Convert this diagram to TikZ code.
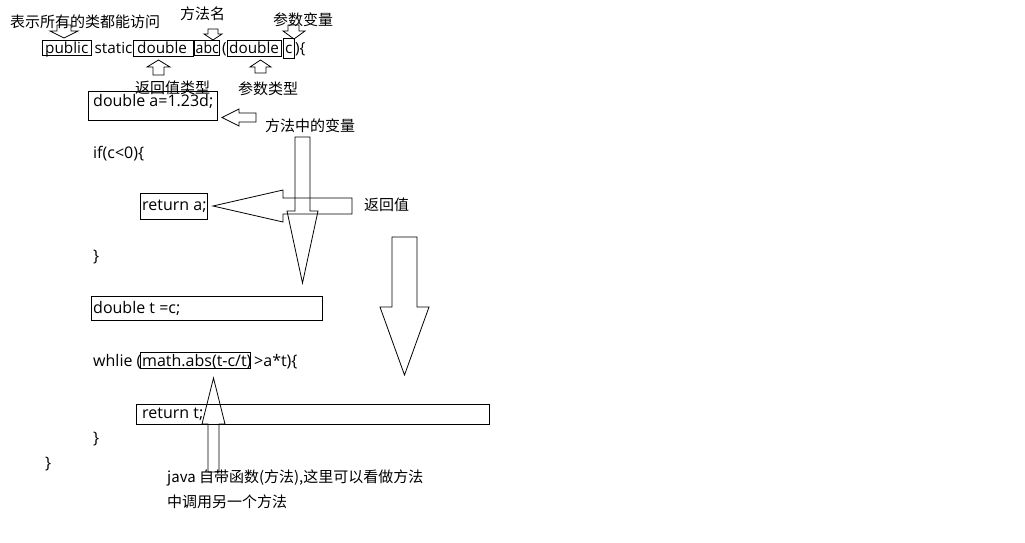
\documentclass[tikz,border=0pt]{standalone}
\usepackage{fontspec}
\setmainfont{Open Sans}
\newfontfamily\cjk{Noto Sans CJK SC}
\newcommand{\vblockarrow}[7]{\draw[barrow] (#1,#5) -- (#2,#5) -- (#2,#6) -- (#4,#6) -- ({(#3+#4)/2},#7) -- (#3,#6) -- (#1,#6) -- cycle;}
\newcommand{\hblockarrow}[7]{\draw[barrow] (#5,#1) -- (#5,#2) -- (#6,#2) -- (#6,#4) -- (#7,{(#3+#4)/2}) -- (#6,#3) -- (#6,#1) -- cycle;}
\begin{document}
\begin{tikzpicture}[x=1pt,y=-1pt,
  code/.style={anchor=base west, inner sep=0pt, font=\fontsize{16}{19}\selectfont},
  hcode/.style={anchor=base west, inner sep=0pt, font=\fontsize{15.3}{18}\selectfont},
  note/.style={anchor=base west, inner sep=0pt, font=\cjk\fontsize{15}{18}\selectfont},
  wordbox/.style={draw, line width=0.8pt},
  barrow/.style={draw, line width=0.8pt, line join=miter}]
\fill[white] (0,0) rectangle (1025,542);
\useasboundingbox (0,0) rectangle (1025,542);

% header line
\node[note] (n1) at (10,27) {表示所有的类都能访问};
\node[note] (n2) at (180,19) {方法名};
\node[note] (n3) at (273,25) {参数变量};
\node[hcode] (pub) at (45,53) {public};
\node[hcode] (sta) at (94.5,53) {static};
\node[hcode] (dbl) at (137,53) {double};
\node[hcode, xscale=0.92] (abc) at (195.5,53) {abc};
\node[hcode] (par) at (222,53) {(};
\node[hcode] (dbl2) at (229,53) {double};
\node[hcode] (cc) at (285,53) {c};
\node[hcode] (brc) at (295,53) {)\{};
\draw[wordbox] (42,40) rectangle (91,55);
\draw[wordbox] (133,40) rectangle (193,56);
\draw[wordbox] (194,40) rectangle (219,55);
\draw[wordbox] (227,40) rectangle (281,56);
\draw[wordbox] (283,38) rectangle (294,58);
\node[note] (n4) at (135,93) {返回值类型};
\node[note] (n5) at (238,94) {参数类型};

% small arrows
\vblockarrow{57}{71}{50}{78}{25}{31}{38}
\vblockarrow{208}{218}{204}{222}{29}{34}{40}
\vblockarrow{288}{299}{283}{305}{25}{31}{39}
\vblockarrow{153}{164}{147}{170}{75}{67}{60}
\vblockarrow{255}{266}{250}{271}{73}{67}{60}

% body
\node[code] (la) at (93,106) {double a=1.23d;};
\draw[wordbox] (88,91) rectangle (217,120);
\hblockarrow{113}{122}{109}{126}{256}{239}{222}
\node[note] (n6) at (265,131) {方法中的变量};
\node[code] (lif) at (93,158) {if(c<0)\{};
\node[code] (lra) at (142,210) {return a;};
\draw[wordbox] (140,193) rectangle (207,219);
\vblockarrow{295}{310}{287}{318}{137}{211}{283}
\hblockarrow{198}{214}{190}{222}{352}{283}{213}
\node[note] (n7) at (364,210) {返回值};
\node[code] (lb1) at (93,261) {\}};
\node[code] (lt) at (93,313) {double t =c;};
\draw[wordbox] (91,296) rectangle (322,320);
\vblockarrow{392}{417}{380}{429}{237}{307}{375}
\node[code] (lw1) at (93,366) {whlie (};
\node[code] (lw2) at (142,366) {math.abs(t-c/t)};
\node[code] (lw3) at (254,366) {>a*t)\{};
\draw[wordbox] (140,352) rectangle (250,368);
\node[code] (lrt) at (142,418) {return t;};
\draw[wordbox] (136,404) rectangle (489,424);
\vblockarrow{208}{219}{202}{225}{472}{424}{378}
\node[code] (lb2) at (93,443) {\}};
\node[code] (lb3) at (45,468) {\}};
\node[note] (n8) at (167,482) {java 自带函数(方法),这里可以看做方法};
\node[note] (n9) at (167,507) {中调用另一个方法};
\end{tikzpicture}
\end{document}
